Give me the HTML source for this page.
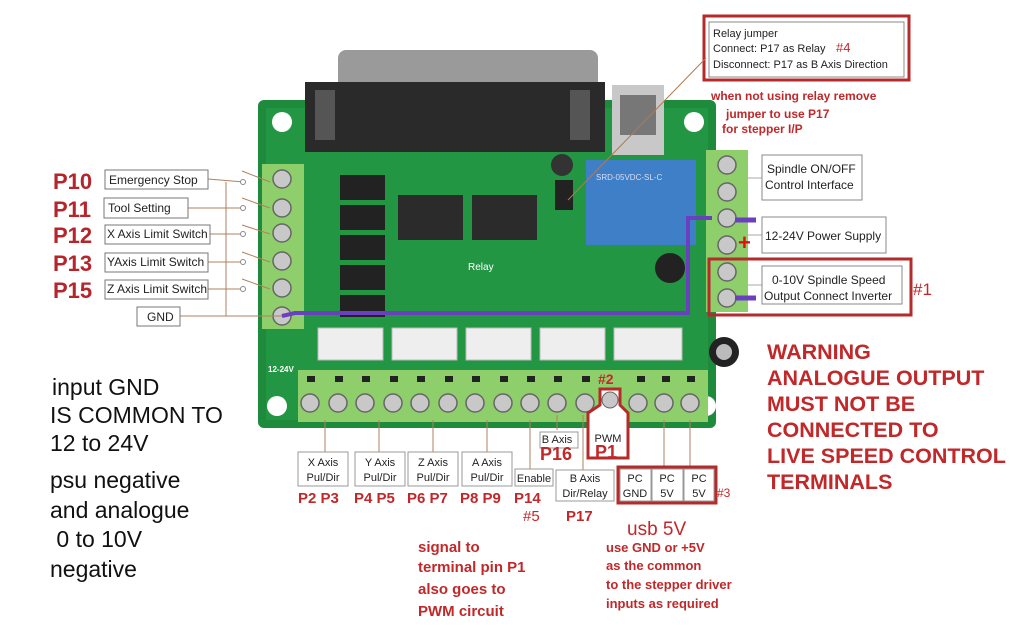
<!DOCTYPE html>
<html><head><meta charset="utf-8"><style>
html,body{margin:0;padding:0;background:#fff;}
svg{display:block;}
text{font-family:"Liberation Sans",sans-serif;}
</style></head><body>
<svg width="1025" height="629" viewBox="0 0 1025 629" xmlns="http://www.w3.org/2000/svg">
<rect width="1025" height="629" fill="#fff"/>
<!-- board -->
<rect x="258" y="100" width="458" height="328" rx="6" fill="#1e8a3c"/>
<rect x="266" y="108" width="442" height="312" fill="#239643"/>
<circle cx="282" cy="122" r="10" fill="#fff"/>
<circle cx="694" cy="122" r="10" fill="#fff"/>
<circle cx="277" cy="406" r="10" fill="#fff"/>
<circle cx="706" cy="406" r="10" fill="#fff"/>
<!-- DB25 -->
<rect x="338" y="50" width="260" height="40" rx="8" fill="#9a9a9a"/>
<rect x="305" y="82" width="300" height="70" fill="#2a2a2a"/>
<rect x="315" y="90" width="20" height="50" fill="#555"/>
<rect x="570" y="90" width="20" height="50" fill="#555"/>
<!-- USB -->
<rect x="612" y="85" width="52" height="70" fill="#c8c8c8"/>
<rect x="620" y="95" width="36" height="40" fill="#777"/>
<!-- relay -->
<rect x="586" y="160" width="110" height="85" fill="#3e7fc7"/>
<text x="596" y="180" font-size="8" fill="#dde">SRD-05VDC-SL-C</text>
<!-- chips -->
<rect x="340" y="175" width="45" height="25" fill="#222"/>
<rect x="340" y="205" width="45" height="25" fill="#222"/>
<rect x="340" y="235" width="45" height="25" fill="#222"/>
<rect x="340" y="265" width="45" height="25" fill="#222"/>
<rect x="340" y="295" width="45" height="22" fill="#222"/>
<rect x="398" y="195" width="65" height="45" fill="#2b2b2b"/>
<rect x="472" y="195" width="65" height="45" fill="#2b2b2b"/>
<rect x="555" y="180" width="18" height="30" fill="#222"/>
<circle cx="562" cy="165" r="11" fill="#333"/>
<circle cx="670" cy="268" r="15" fill="#222"/>
<circle cx="724" cy="352" r="15" fill="#222"/>
<circle cx="724" cy="352" r="8" fill="#bbb"/>
<text x="468" y="270" font-size="10" fill="#fff">Relay</text>
<text x="268" y="372" font-size="8" fill="#fff" font-weight="bold">12-24V</text>
<!-- white headers -->
<g fill="#eee" stroke="#bbb">
<rect x="318" y="328" width="65" height="32"/><rect x="392" y="328" width="65" height="32"/>
<rect x="466" y="328" width="65" height="32"/><rect x="540" y="328" width="65" height="32"/>
<rect x="614" y="328" width="68" height="32"/>
</g>
<!-- left terminal -->
<rect x="262" y="164" width="42" height="165" fill="#8fcf6b"/>
<g fill="#c8c8c8" stroke="#666" stroke-width="1.5">
<circle cx="282" cy="179" r="9"/><circle cx="282" cy="208" r="9"/><circle cx="282" cy="233" r="9"/>
<circle cx="282" cy="261" r="9"/><circle cx="282" cy="288" r="9"/><circle cx="282" cy="316" r="9"/>
</g>
<!-- right terminal -->
<rect x="706" y="150" width="42" height="162" fill="#8fcf6b"/>
<g fill="#c8c8c8" stroke="#666" stroke-width="1.5">
<circle cx="727" cy="165" r="9"/><circle cx="727" cy="192" r="9"/><circle cx="727" cy="218" r="9"/>
<circle cx="727" cy="245" r="9"/><circle cx="727" cy="272" r="9"/><circle cx="727" cy="298" r="9"/>
</g>
<!-- bottom terminal -->
<rect x="298" y="370" width="410" height="52" fill="#8fcf6b"/>
<g fill="#222">
<rect x="307" y="376" width="8" height="6"/><rect x="335" y="376" width="8" height="6"/><rect x="362" y="376" width="8" height="6"/>
<rect x="390" y="376" width="8" height="6"/><rect x="417" y="376" width="8" height="6"/><rect x="445" y="376" width="8" height="6"/>
<rect x="472" y="376" width="8" height="6"/><rect x="500" y="376" width="8" height="6"/><rect x="527" y="376" width="8" height="6"/>
<rect x="554" y="376" width="8" height="6"/><rect x="582" y="376" width="8" height="6"/><rect x="637" y="376" width="8" height="6"/>
<rect x="662" y="376" width="8" height="6"/><rect x="687" y="376" width="8" height="6"/>
</g>
<g fill="#c8c8c8" stroke="#666" stroke-width="1.5">
<circle cx="310" cy="403" r="9"/><circle cx="338" cy="403" r="9"/><circle cx="365" cy="403" r="9"/>
<circle cx="393" cy="403" r="9"/><circle cx="420" cy="403" r="9"/><circle cx="448" cy="403" r="9"/>
<circle cx="475" cy="403" r="9"/><circle cx="503" cy="403" r="9"/><circle cx="530" cy="403" r="9"/>
<circle cx="557" cy="403" r="9"/><circle cx="585" cy="403" r="9"/><circle cx="610" cy="403" r="9"/>
<circle cx="638" cy="403" r="9"/><circle cx="664" cy="403" r="9"/><circle cx="690" cy="403" r="9"/>
</g>
<!-- purple wire -->
<polyline points="282,316 295,313 600,313 688,313 688,218 712,218" fill="none" stroke="#6a3fc0" stroke-width="4"/>
<line x1="735" y1="220" x2="756" y2="220" stroke="#6a3fc0" stroke-width="5"/>
<line x1="735" y1="298" x2="756" y2="298" stroke="#6a3fc0" stroke-width="5"/>
<text x="738" y="250" font-size="22" fill="#e01010" font-weight="bold">+</text>
<!-- left labels -->
<g stroke="#b08060" stroke-width="1" fill="none">
<line x1="208" y1="179" x2="244" y2="182"/><line x1="188" y1="208" x2="244" y2="208"/>
<line x1="210" y1="234" x2="244" y2="234"/><line x1="208" y1="262" x2="244" y2="262"/>
<line x1="208" y1="289" x2="244" y2="289"/><line x1="180" y1="316" x2="282" y2="316"/>
<line x1="226" y1="182" x2="226" y2="316"/>
<line x1="242" y1="171" x2="270" y2="182"/><line x1="242" y1="198" x2="270" y2="208"/>
<line x1="242" y1="225" x2="270" y2="234"/><line x1="242" y1="252" x2="270" y2="262"/>
<line x1="242" y1="279" x2="270" y2="289"/>
</g>
<g fill="#fff" stroke="#888">
<circle cx="243" cy="182" r="2.5"/><circle cx="243" cy="208" r="2.5"/><circle cx="243" cy="234" r="2.5"/>
<circle cx="243" cy="262" r="2.5"/><circle cx="243" cy="289" r="2.5"/>
</g>
<g fill="#fff" stroke="#777" stroke-width="1">
<rect x="105" y="170" width="103" height="19"/><rect x="104" y="198" width="84" height="20"/>
<rect x="105" y="225" width="105" height="19"/><rect x="105" y="253" width="103" height="19"/>
<rect x="105" y="280" width="103" height="19"/><rect x="137" y="307" width="43" height="19"/>
</g>
<g font-size="12" fill="#222">
<text x="109" y="184">Emergency Stop</text><text x="108" y="212">Tool Setting</text>
<text x="107" y="238">X Axis Limit Switch</text><text x="107" y="266">YAxis Limit Switch</text>
<text x="107" y="293">Z Axis Limit Switch</text><text x="147" y="321">GND</text>
</g>
<g font-size="22" font-weight="bold" fill="#b5252b">
<text x="53" y="189">P10</text><text x="53" y="217">P11</text><text x="53" y="243">P12</text>
<text x="53" y="271">P13</text><text x="53" y="298">P15</text>
</g>
<g font-size="23" fill="#111">
<text x="52" y="395">input GND</text><text x="50" y="423">IS COMMON TO</text>
<text x="50" y="451">12 to 24V</text><text x="50" y="488">psu negative</text>
<text x="50" y="518">and analogue</text><text x="50" y="547">&#160;0 to 10V</text>
<text x="50" y="577">negative</text>
</g>
<!-- top right -->
<rect x="704" y="16" width="205" height="64" fill="none" stroke="#b52a2a" stroke-width="3"/>
<rect x="709" y="22" width="195" height="55" fill="#fff" stroke="#888"/>
<g font-size="11" fill="#222"><text x="713" y="37">Relay jumper</text><text x="713" y="52">Connect: P17 as Relay</text><text x="713" y="68">Disconnect: P17 as B Axis Direction</text></g>
<text x="836" y="52" font-size="13" fill="#c0282a">#4</text>
<line x1="706" y1="58" x2="568" y2="200" stroke="#b07a50"/>
<g font-size="12" font-weight="bold" fill="#c0282a">
<text x="711" y="100">when not using relay remove</text>
<text x="726" y="118">jumper to use P17</text>
<text x="722" y="133">for stepper I/P</text>
</g>
<!-- right labels -->
<g stroke="#aaa" fill="none"><line x1="748" y1="178" x2="762" y2="178"/><line x1="748" y1="235" x2="762" y2="235"/><line x1="748" y1="285" x2="762" y2="285"/></g>
<g fill="#fff" stroke="#888">
<rect x="762" y="155" width="100" height="45"/><rect x="762" y="217" width="124" height="36"/><rect x="762" y="266" width="140" height="38"/>
</g>
<rect x="709" y="259" width="202" height="56" fill="none" stroke="#b52a2a" stroke-width="3"/>
<g font-size="12" fill="#222">
<text x="767" y="173">Spindle ON/OFF</text><text x="765" y="189">Control Interface</text>
<text x="765" y="240">12-24V Power Supply</text>
<text x="772" y="284">0-10V Spindle Speed</text><text x="764" y="300">Output Connect Inverter</text>
</g>
<text x="913" y="295" font-size="17" fill="#c0282a">#1</text>
<g font-size="21.5" font-weight="bold" fill="#c0282a">
<text x="767" y="359">WARNING</text><text x="767" y="385">ANALOGUE OUTPUT</text>
<text x="767" y="411">MUST NOT BE</text><text x="767" y="437">CONNECTED TO</text>
<text x="767" y="463">LIVE SPEED CONTROL</text><text x="767" y="489">TERMINALS</text>
</g>
<!-- bottom labels -->
<g stroke="#b08060" fill="none">
<line x1="325" y1="420" x2="325" y2="452"/><line x1="379" y1="420" x2="379" y2="452"/>
<line x1="433" y1="420" x2="433" y2="452"/><line x1="487" y1="420" x2="487" y2="452"/>
<line x1="530" y1="420" x2="530" y2="470"/><line x1="557" y1="415" x2="557" y2="430"/>
<line x1="583" y1="415" x2="583" y2="470"/><line x1="664" y1="420" x2="664" y2="470"/>
<line x1="690" y1="420" x2="690" y2="470"/>
</g>
<g fill="#fff" stroke="#999">
<rect x="298" y="452" width="50" height="34"/><rect x="355" y="452" width="50" height="34"/>
<rect x="408" y="452" width="50" height="34"/><rect x="462" y="452" width="50" height="34"/>
<rect x="515" y="469" width="38" height="17"/><rect x="540" y="432" width="38" height="16"/>
<rect x="556" y="470" width="58" height="31"/>
<rect x="620" y="469" width="31" height="32"/><rect x="652" y="469" width="31" height="32"/><rect x="684" y="469" width="30" height="32"/>
</g>
<rect x="618" y="467" width="98" height="36" fill="none" stroke="#b52a2a" stroke-width="3"/>
<path d="M600,389 L620,389 L620,405 L628,413 L628,458 L588,458 L588,413 L600,405 Z" fill="#fff" stroke="#b52a2a" stroke-width="3"/>
<circle cx="610" cy="400" r="8" fill="#c8c8c8" stroke="#666"/>
<g font-size="11" fill="#222" text-anchor="middle">
<text x="323" y="466">X Axis</text><text x="323" y="481">Pul/Dir</text>
<text x="380" y="466">Y Axis</text><text x="380" y="481">Pul/Dir</text>
<text x="433" y="466">Z Axis</text><text x="433" y="481">Pul/Dir</text>
<text x="487" y="466">A Axis</text><text x="487" y="481">Pul/Dir</text>
<text x="534" y="482">Enable</text><text x="557" y="443">B Axis</text>
<text x="585" y="482">B Axis</text><text x="585" y="497">Dir/Relay</text>
<text x="608" y="442">PWM</text>
<text x="635" y="482">PC</text><text x="635" y="497">GND</text>
<text x="667" y="482">PC</text><text x="667" y="497">5V</text>
<text x="699" y="482">PC</text><text x="699" y="497">5V</text>
</g>
<g font-size="15" font-weight="bold" fill="#c0282a">
<text x="298" y="503">P2 P3</text><text x="354" y="503">P4 P5</text><text x="407" y="503">P6 P7</text>
<text x="460" y="503">P8 P9</text><text x="514" y="503">P14</text><text x="566" y="521">P17</text>
</g>
<text x="540" y="460" font-size="18" font-weight="bold" fill="#c0282a">P16</text>
<text x="595" y="458" font-size="18" font-weight="bold" fill="#c0282a">P1</text>
<text x="598" y="384" font-size="14" font-weight="bold" fill="#c0282a">#2</text>
<text x="523" y="521" font-size="15" fill="#c0282a">#5</text>
<text x="717" y="497" font-size="12" fill="#c0282a">#3</text>
<text x="627" y="535" font-size="19" fill="#c0282a">usb 5V</text>
<g font-size="13" font-weight="bold" fill="#c0282a">
<text x="606" y="552">use GND or +5V</text><text x="606" y="570">as the common</text>
<text x="606" y="589">to the stepper driver</text><text x="606" y="608">inputs as required</text>
</g>
<g font-size="15" font-weight="bold" fill="#c0282a">
<text x="418" y="552">signal to</text><text x="418" y="572">terminal pin P1</text>
<text x="418" y="594">also goes  to</text><text x="418" y="616">PWM circuit</text>
</g>
</svg>
</body></html>
